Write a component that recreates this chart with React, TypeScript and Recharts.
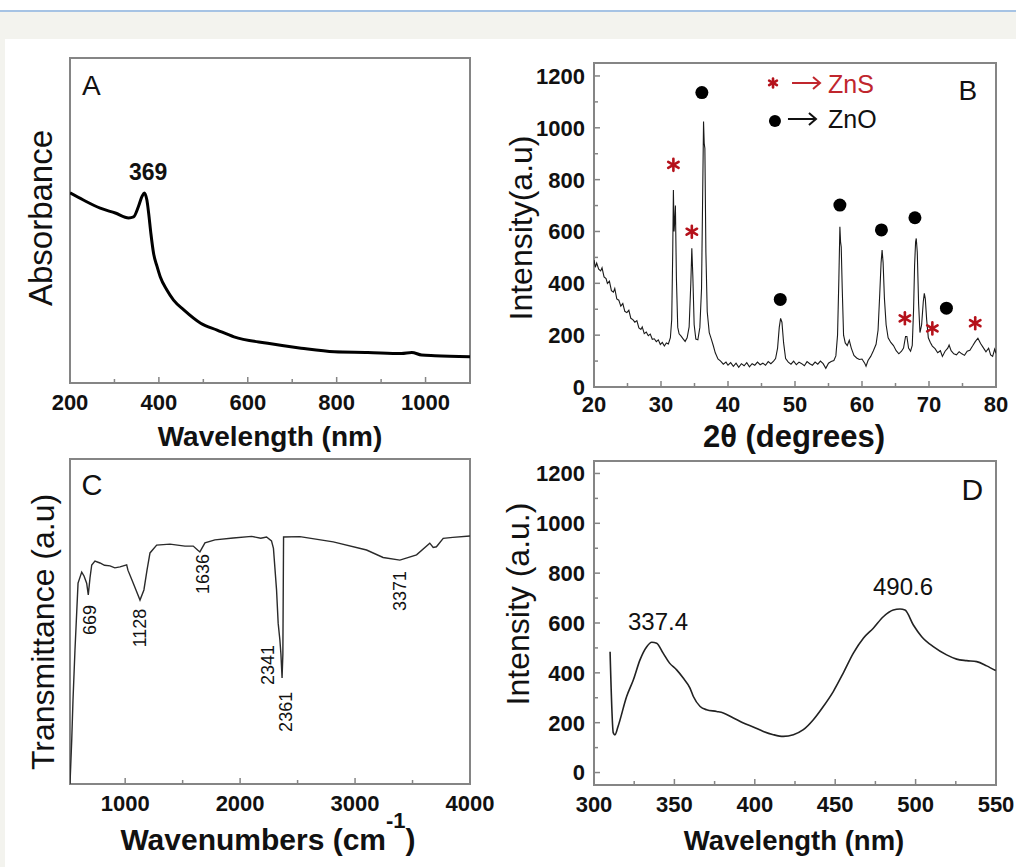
import React from 'react'
import { ComposedChart, Line, Scatter, XAxis, YAxis, ReferenceArea } from 'recharts'

const FONT = '"Liberation Sans", Arial, Helvetica, sans-serif'
const INK = '#111'
const FRAME = '#858585'
const RED = '#b5121b'

// A: UV-vis absorbance, [wavelength nm, absorbance]
const aSpectrum = [
  [200, 0.585], [230, 0.563], [268, 0.538], [302, 0.523], [332, 0.508], [343, 0.511], [354, 0.543],
  [362, 0.574], [367, 0.585], [373, 0.563], [377, 0.522], [382, 0.46], [388, 0.399], [396, 0.358],
  [403, 0.327], [418, 0.286], [433, 0.255], [456, 0.225], [494, 0.184], [531, 0.163], [569, 0.142],
  [645, 0.122], [720, 0.107], [795, 0.096], [870, 0.094], [946, 0.091], [969, 0.094], [991, 0.086],
  [1021, 0.084], [1100, 0.081],
]
const aTicks = [200, 300, 400, 500, 600, 700, 800, 900, 1000]
const aMajor = [200, 400, 600, 800, 1000]
const aLetter = [{ x: 227, y: 0.886, label: 'A' }]
const aPeakLabel = [{ x: 376, y: 0.625, label: '369' }]

// B: XRD pattern, [2theta, intensity]
const bPattern = [
  [20, 490], [20.2, 462], [20.4, 478], [20.7, 455], [21, 448], [21.2, 460], [21.5, 425], [21.8, 418],
  [22, 400], [22.3, 408], [22.6, 372], [22.9, 366], [23.1, 380], [23.4, 340], [23.7, 335], [24, 312],
  [24.3, 322], [24.6, 292], [24.9, 287], [25.2, 296], [25.5, 265], [25.8, 260], [26.1, 250], [26.4, 256],
  [26.7, 228], [27, 222], [27.2, 232], [27.5, 206], [27.8, 212], [28.1, 198], [28.4, 204], [28.7, 184],
  [29, 186], [29.3, 175], [29.6, 182], [29.9, 164], [30.2, 172], [30.5, 158], [30.8, 170], [31.1, 166],
  [31.4, 190], [31.6, 260], [31.75, 520], [31.85, 760], [31.95, 600], [32.05, 640], [32.15, 700],
  [32.3, 420], [32.5, 230], [32.7, 205], [33, 196], [33.3, 186], [33.6, 176], [33.9, 190], [34.2, 232],
  [34.45, 400], [34.6, 535], [34.75, 430], [34.95, 240], [35.2, 185], [35.5, 182], [35.8, 230],
  [36.05, 380], [36.2, 700], [36.35, 1024], [36.45, 940], [36.55, 920], [36.7, 520], [36.9, 290],
  [37.2, 210], [37.5, 186], [37.8, 160], [38.1, 132], [38.5, 108], [38.9, 100], [39.3, 88], [39.7, 96],
  [40, 84], [40.4, 94], [40.8, 80], [41.2, 92], [41.6, 76], [42, 90], [42.4, 82], [42.8, 94], [43.2, 78],
  [43.6, 90], [44, 84], [44.4, 96], [44.8, 86], [45.2, 92], [45.6, 84], [46, 98], [46.4, 90], [46.8, 100],
  [47.1, 110], [47.4, 150], [47.65, 230], [47.85, 265], [48.05, 250], [48.3, 170], [48.6, 110], [49, 96],
  [49.4, 88], [49.8, 100], [50.2, 86], [50.6, 96], [51, 90], [51.4, 82], [51.8, 98], [52.2, 90],
  [52.6, 84], [53, 96], [53.4, 88], [53.8, 100], [54.2, 90], [54.6, 72], [55, 92], [55.4, 98],
  [55.8, 102], [56.1, 120], [56.35, 200], [56.55, 420], [56.7, 618], [56.8, 560], [56.9, 540],
  [57.05, 380], [57.25, 200], [57.5, 170], [57.8, 160], [58.1, 180], [58.4, 150], [58.8, 122],
  [59.2, 112], [59.6, 106], [60, 108], [60.4, 92], [60.6, 80], [60.9, 102], [61.3, 118], [61.7, 140],
  [62.1, 165], [62.4, 220], [62.65, 360], [62.85, 480], [63, 528], [63.15, 480], [63.35, 340],
  [63.6, 240], [63.9, 190], [64.3, 172], [64.7, 160], [65.1, 140], [65.5, 128], [65.9, 138], [66.2, 150],
  [66.5, 195], [66.7, 195], [66.95, 150], [67.25, 138], [67.5, 160], [67.7, 300], [67.85, 470],
  [68, 560], [68.1, 573], [68.25, 520], [68.45, 320], [68.65, 210], [68.9, 240], [69.15, 330],
  [69.3, 361], [69.45, 340], [69.65, 260], [69.9, 190], [70.2, 172], [70.5, 158], [70.9, 148],
  [71.3, 132], [71.7, 140], [72, 118], [72.4, 138], [72.8, 150], [73, 162], [73.3, 140], [73.7, 128],
  [74.1, 124], [74.5, 136], [74.9, 128], [75.3, 122], [75.7, 138], [76.1, 142], [76.5, 158], [76.9, 175],
  [77.3, 188], [77.7, 168], [78.1, 152], [78.5, 136], [78.9, 150], [79.2, 124], [79.5, 118], [79.8, 146],
  [80, 130],
]
const znsPeaks = [[31.85, 857], [34.6, 599], [66.4, 265], [70.5, 226], [76.9, 246]]
const znoPeaks = [[36.1, 1136], [47.8, 338], [56.7, 702], [62.9, 606], [67.9, 653], [72.6, 304]]
const phaseKey = [
  { x: 46.72, y: 1173, name: 'ZnS', marker: 'star' },
  { x: 47.01, y: 1026, name: 'ZnO', marker: 'dot' },
]
const bXTicks = [20, 25, 30, 35, 40, 45, 50, 55, 60, 65, 70, 75, 80]
const bXMajor = [20, 30, 40, 50, 60, 70, 80]
const intensityTicks = [0, 100, 200, 300, 400, 500, 600, 700, 800, 900, 1000, 1100, 1200]
const intensityMajor = [0, 200, 400, 600, 800, 1000, 1200]
const bLetter = [{ x: 74.4, y: 1107, label: 'B' }]

// C: FTIR, [wavenumber, transmittance]
const cSpectrum = [
  [520, 0], [535, 13.5], [546, 25.8], [563, 41], [590, 61.8], [622, 65.2], [642, 64], [665, 61.8],
  [679, 58.2], [694, 63.4], [709, 67.4], [737, 68.6], [781, 68], [820, 67.3], [868, 67.1], [910, 66.5],
  [955, 66.8], [1013, 67.4], [1024, 65.8], [1059, 62.8], [1094, 59.7], [1129, 56.6], [1163, 59.7],
  [1190, 65.8], [1216, 71.1], [1274, 73.5], [1390, 73.8], [1520, 73.2], [1592, 73.2], [1630, 72],
  [1650, 71.4], [1694, 74.2], [1781, 75.1], [1940, 75.7], [2100, 76.2], [2180, 75.6], [2230, 76],
  [2273, 74.8], [2290, 72.5], [2317, 59.7], [2331, 49.5], [2346, 44.3], [2355, 40], [2365, 32.6],
  [2372, 40], [2378, 76], [2520, 76.1], [2810, 74.5], [3100, 72], [3244, 69.7], [3390, 68.9],
  [3535, 70.5], [3650, 74.1], [3680, 72.8], [3708, 73], [3767, 75.6], [3850, 75.9], [4000, 76.3],
]
const cTicks = [1000, 1500, 2000, 2500, 3000, 3500, 4000]
const cMajor = [1000, 2000, 3000, 4000]
const cLetter = [{ x: 620, y: 88.9, label: 'C' }]
const cBandLabels = [
  { x: 694, y: 50.5, label: '669' },
  { x: 1129, y: 48, label: '1128' },
  { x: 1677, y: 64.6, label: '1636' },
  { x: 2242, y: 36.6, label: '2341' },
  { x: 2398, y: 22.2, label: '2361' },
  { x: 3390, y: 59.4, label: '3371' },
]

// D: photoluminescence, [wavelength nm, intensity]
const dSpectrum = [
  [310, 485], [312, 159], [313, 151], [315, 186], [320.3, 305], [324.5, 372], [328.6, 452], [332.8, 505],
  [335.9, 523], [339, 519], [343, 479], [347, 439], [351.4, 412], [355.5, 379], [359.7, 339], [361.8, 305],
  [366, 265], [370, 252], [376.3, 245], [380.4, 239], [386.7, 219], [392.9, 199], [399, 183], [405.3, 165],
  [411.5, 152], [417.7, 145], [424, 152], [430.2, 172], [436.4, 212], [442.6, 265], [448.8, 325], [455, 399],
  [461.3, 479], [467.5, 539], [473.7, 579], [479.9, 625], [486.1, 652], [490.3, 656], [493.4, 652],
  [498.6, 592], [503.8, 545], [511, 505], [519.3, 472], [525.5, 455], [531.8, 449], [538, 445],
  [544.2, 428], [549.8, 409],
]
const dXTicks = [300, 325, 350, 375, 400, 425, 450, 475, 500, 525, 550]
const dXMajor = [300, 350, 400, 450, 500, 550]
const dLetter = [{ x: 528.5, y: 1092, label: 'D' }]
const dPeakLabels = [
  { x: 339.8, y: 572, label: '337.4' },
  { x: 492.2, y: 712, label: '490.6' },
]

const toPoints = (pairs: number[][]) => pairs.map(([x, y]) => ({ x, y }))

const BottomTick = ({ x, y, payload, majors, labelDy }: any) => {
  const major = majors.includes(payload.value)
  return (
    <g>
      <line x1={x} x2={x} y1={y} y2={y - (major ? 6 : 4)} stroke={FRAME} strokeWidth={1.5} />
      {major && (
        <text x={x} y={y + labelDy} textAnchor="middle" fontSize={22} fontWeight="bold" fontFamily={FONT} fill={INK}>
          {payload.value}
        </text>
      )}
    </g>
  )
}

const LeftTick = ({ x, y, payload, majors }: any) => {
  const major = majors.includes(payload.value)
  return (
    <g>
      <line x1={x} x2={x + (major ? 6 : 4)} y1={y} y2={y} stroke={FRAME} strokeWidth={1.5} />
      {major && (
        <text x={x - 9} y={y} dy="0.36em" textAnchor="end" fontSize={22} fontWeight="bold" fontFamily={FONT} fill={INK}>
          {payload.value}
        </text>
      )}
    </g>
  )
}

const XTitle = ({ tx, ty, size, text, sup, tail }: any) => (
  <text x={tx} y={ty} textAnchor="middle" fontSize={size} fontWeight="bold" fontFamily={FONT} fill={INK}>
    {text}
    {sup && <tspan dy={-22} fontSize={22}>{sup}</tspan>}
    {sup && <tspan dy={22}>{tail}</tspan>}
  </text>
)

const YTitle = ({ tx, ty, size, text }: any) => (
  <text
    x={tx}
    y={ty}
    dy="0.36em"
    textAnchor="middle"
    fontSize={size}
    fontFamily={FONT}
    fill={INK}
    transform={`rotate(-90 ${tx} ${ty})`}
  >
    {text}
  </text>
)

const textShape = (s: { size: number; weight?: string; anchor?: string; rotate?: number }) => (p: any) => (
  <text
    x={p.cx}
    y={p.cy}
    dy={s.rotate ? '0.36em' : undefined}
    textAnchor={s.anchor ?? 'middle'}
    fontSize={s.size}
    fontWeight={s.weight ?? 'normal'}
    fontFamily={FONT}
    fill={INK}
    transform={s.rotate ? `rotate(${s.rotate} ${p.cx} ${p.cy})` : undefined}
  >
    {p.payload.label}
  </text>
)

const Star = ({ cx, cy, size }: any) => {
  const r = size / 2
  return (
    <g stroke={RED} strokeWidth={2.6} strokeLinecap="round">
      {[90, 30, 150].map((a) => {
        const t = (a * Math.PI) / 180
        return (
          <line key={a} x1={cx - r * Math.cos(t)} y1={cy - r * Math.sin(t)} x2={cx + r * Math.cos(t)} y2={cy + r * Math.sin(t)} />
        )
      })}
    </g>
  )
}

const StarShape = (p: any) => <Star cx={p.cx} cy={p.cy} size={12} />
const DotShape = (p: any) => <circle cx={p.cx} cy={p.cy} r={6.5} fill="#000" />

const PhaseKeyShape = (p: any) => {
  const { cx, cy, payload } = p
  const star = payload.marker === 'star'
  const color = star ? '#c0262d' : INK
  const ay = star ? cy : cy - 2
  const ax = cx + (star ? 19 : 13)
  return (
    <g>
      {star ? <Star cx={cx} cy={cy} size={9} /> : <circle cx={cx} cy={cy} r={6} fill="#000" />}
      <path d={`M${ax} ${ay} h28 M${ax + 21} ${ay - 6} L${ax + 28} ${ay} L${ax + 21} ${ay + 6}`} stroke={color} strokeWidth={2} fill="none" />
      <text x={cx + (star ? 55 : 53)} y={cy + (star ? 10 : 7)} fontSize={25} fontFamily={FONT} fill={color}>
        {payload.name}
      </text>
    </g>
  )
}

const Frame = ({ x, y }: { x: number[]; y: number[] }) => (
  <ReferenceArea x1={x[0]} x2={x[1]} y1={y[0]} y2={y[1]} fill="none" stroke={FRAME} strokeWidth={2} ifOverflow="visible" />
)

const place = (left: number, top: number): React.CSSProperties => ({ position: 'absolute', left, top })

function ChartA() {
  return (
    <ComposedChart width={500} height={420} margin={{ top: 18, right: 30, bottom: 0, left: 0 }}>
      <XAxis
        type="number" dataKey="x" domain={[200, 1100]} allowDataOverflow ticks={aTicks} interval={0}
        height={77} axisLine={false} tickLine={false} tickSize={0} tickMargin={0}
        tick={(p: any) => <BottomTick {...p} majors={aMajor} labelDy={27} />}
        label={<XTitle tx={270} ty={406} size={28} text="Wavelength (nm)" />}
      />
      <YAxis
        type="number" dataKey="y" domain={[0, 1]} allowDataOverflow width={70}
        axisLine={false} tickLine={false} tick={false}
        label={<YTitle tx={40} ty={178} size={33} text="Absorbance" />}
      />
      {Frame({ x: [200, 1100], y: [0, 1] })}
      <Line data={toPoints(aSpectrum)} dataKey="y" type="monotone" stroke="#000" strokeWidth={3} dot={false} isAnimationActive={false} />
      <Scatter data={aLetter} dataKey="y" shape={textShape({ size: 28, anchor: 'start' })} isAnimationActive={false} />
      <Scatter data={aPeakLabel} dataKey="y" shape={textShape({ size: 23, weight: 'bold' })} isAnimationActive={false} />
    </ComposedChart>
  )
}

function ChartB() {
  return (
    <ComposedChart width={516} height={420} margin={{ top: 23, right: 20, bottom: 0, left: 0 }}>
      <XAxis
        type="number" dataKey="x" domain={[20, 80]} allowDataOverflow ticks={bXTicks} interval={0}
        height={73} axisLine={false} tickLine={false} tickSize={0} tickMargin={0}
        tick={(p: any) => <BottomTick {...p} majors={bXMajor} labelDy={25} />}
        label={<XTitle tx={294} ty={407} size={31} text="2θ (degrees)" />}
      />
      <YAxis
        type="number" dataKey="y" domain={[0, 1250]} allowDataOverflow ticks={intensityTicks} interval={0}
        width={94} axisLine={false} tickLine={false} tickSize={0} tickMargin={0}
        tick={(p: any) => <LeftTick {...p} majors={intensityMajor} />}
        label={<YTitle tx={20} ty={188} size={32} text="Intensity(a.u)" />}
      />
      {Frame({ x: [20, 80], y: [0, 1250] })}
      <Line data={toPoints(bPattern)} dataKey="y" type="linear" stroke="#1a1a1a" strokeWidth={1.1} dot={false} isAnimationActive={false} />
      <Scatter data={toPoints(znsPeaks)} dataKey="y" shape={StarShape} isAnimationActive={false} />
      <Scatter data={toPoints(znoPeaks)} dataKey="y" shape={DotShape} isAnimationActive={false} />
      <Scatter data={phaseKey} dataKey="y" shape={PhaseKeyShape} isAnimationActive={false} />
      <Scatter data={bLetter} dataKey="y" shape={textShape({ size: 28, anchor: 'start' })} isAnimationActive={false} />
    </ComposedChart>
  )
}

function ChartC() {
  return (
    <ComposedChart width={500} height={417} margin={{ top: 9, right: 30, bottom: 0, left: 0 }}>
      <XAxis
        type="number" dataKey="x" domain={[520, 4000]} allowDataOverflow ticks={cTicks} interval={0}
        height={83} axisLine={false} tickLine={false} tickSize={0} tickMargin={0}
        tick={(p: any) => <BottomTick {...p} majors={cMajor} labelDy={27} />}
        label={<XTitle tx={268} ty={400} size={30} text="Wavenumbers (cm" sup="-1" tail=")" />}
      />
      <YAxis
        type="number" dataKey="y" domain={[0, 100]} allowDataOverflow width={70}
        axisLine={false} tickLine={false} tick={false}
        label={<YTitle tx={42} ty={182} size={32} text="Transmittance (a.u)" />}
      />
      {Frame({ x: [520, 4000], y: [0, 100] })}
      <Line data={toPoints(cSpectrum)} dataKey="y" type="linear" stroke="#2a2a2a" strokeWidth={1.4} dot={false} isAnimationActive={false} />
      <Scatter data={cLetter} dataKey="y" shape={textShape({ size: 29, anchor: 'start' })} isAnimationActive={false} />
      <Scatter data={cBandLabels} dataKey="y" shape={textShape({ size: 18, rotate: -90 })} isAnimationActive={false} />
    </ComposedChart>
  )
}

function ChartD() {
  return (
    <ComposedChart width={516} height={417} margin={{ top: 11, right: 20, bottom: 0, left: 0 }}>
      <XAxis
        type="number" dataKey="x" domain={[300, 550]} allowDataOverflow ticks={dXTicks} interval={0}
        height={82} axisLine={false} tickLine={false} tickSize={0} tickMargin={0}
        tick={(p: any) => <BottomTick {...p} majors={dXMajor} labelDy={27} />}
        label={<XTitle tx={294} ty={400} size={27.5} text="Wavelength (nm)" />}
      />
      <YAxis
        type="number" dataKey="y" domain={[-50, 1250]} allowDataOverflow ticks={intensityTicks} interval={0}
        width={94} axisLine={false} tickLine={false} tickSize={0} tickMargin={0}
        tick={(p: any) => <LeftTick {...p} majors={intensityMajor} />}
        label={<YTitle tx={17} ty={154} size={32} text="Intensity (a.u.)" />}
      />
      {Frame({ x: [300, 550], y: [-50, 1250] })}
      <Line data={toPoints(dSpectrum)} dataKey="y" type="monotone" stroke="#222" strokeWidth={1.6} dot={false} isAnimationActive={false} />
      <Scatter data={dLetter} dataKey="y" shape={textShape({ size: 30, anchor: 'start' })} isAnimationActive={false} />
      <Scatter data={dPeakLabels} dataKey="y" shape={textShape({ size: 24 })} isAnimationActive={false} />
    </ComposedChart>
  )
}

export default function App() {
  return (
    <div style={{ position: 'absolute', left: 0, top: 0, width: 1016, height: 867, background: '#fff', overflow: 'hidden', fontFamily: FONT }}>
      <div style={{ position: 'absolute', left: 0, top: 10, width: 1016, height: 2, background: '#a6c3e4' }} />
      <div style={{ position: 'absolute', left: 0, top: 12, width: 1016, height: 27, background: '#f3f3ee' }} />
      <div style={{ position: 'absolute', left: 0, top: 39, width: 5, height: 828, background: '#f3f3ee' }} />
      <div style={place(0, 40)}><ChartA /></div>
      <div style={place(500, 40)}><ChartB /></div>
      <div style={place(0, 450)}><ChartC /></div>
      <div style={place(500, 450)}><ChartD /></div>
    </div>
  )
}
